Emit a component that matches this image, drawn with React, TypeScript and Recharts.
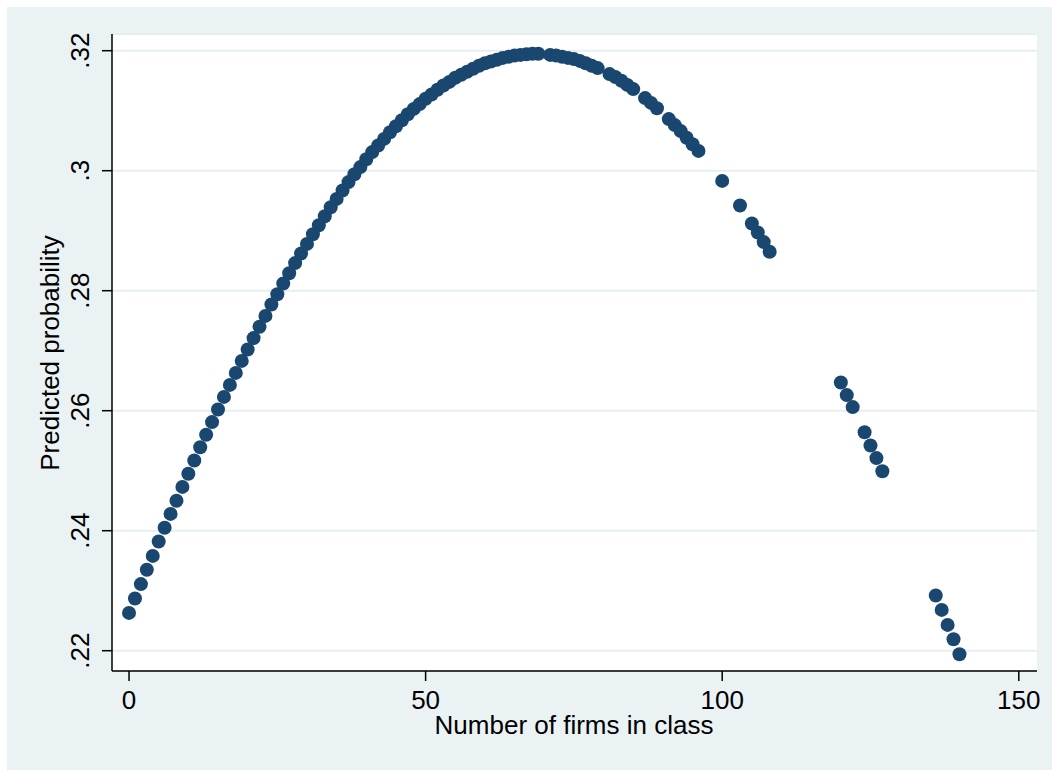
import React from 'react';
import { CartesianGrid, Scatter, ScatterChart, XAxis, YAxis } from 'recharts';

// number of firms in class (x) and predicted probability (y)
const firms = [
  0, 1, 2, 3, 4, 5, 6, 7, 8, 9, 10, 11, 12, 13, 14, 15, 16, 17, 18, 19,
  20, 21, 22, 23, 24, 25, 26, 27, 28, 29, 30, 31, 32, 33, 34, 35, 36, 37, 38, 39,
  40, 41, 42, 43, 44, 45, 46, 47, 48, 49, 50, 51, 52, 53, 54, 55, 56, 57, 58, 59,
  60, 61, 62, 63, 64, 65, 66, 67, 68, 69, 71, 72, 73, 74, 75, 76, 77, 78, 79,
  81, 82, 83, 84, 85, 87, 88, 89, 91, 92, 93, 94, 95, 96,
  100, 103, 105, 106, 107, 108,
  120, 121, 122, 124, 125, 126, 127,
  136, 137, 138, 139, 140,
];

const predicted = [
  0.2263, 0.2287, 0.2311, 0.2335, 0.2358, 0.2382, 0.2405, 0.2428, 0.245, 0.2473,
  0.2495, 0.2517, 0.2539, 0.256, 0.2581, 0.2602, 0.2623, 0.2643, 0.2663, 0.2683,
  0.2702, 0.2721, 0.274, 0.2758, 0.2777, 0.2794, 0.2812, 0.2829, 0.2846, 0.2862,
  0.2878, 0.2894, 0.2909, 0.2924, 0.2939, 0.2953, 0.2967, 0.2981, 0.2994, 0.3006,
  0.3019, 0.3031, 0.3042, 0.3053, 0.3064, 0.3074, 0.3084, 0.3094, 0.3103, 0.3111,
  0.312, 0.3127, 0.3135, 0.3142, 0.3148, 0.3155, 0.316, 0.3165, 0.317, 0.3175,
  0.3179, 0.3182, 0.3185, 0.3188, 0.319, 0.3192, 0.3193, 0.3194, 0.3195, 0.3195,
  0.3193, 0.3192, 0.319, 0.3188, 0.3186, 0.3183, 0.3179, 0.3175, 0.3171,
  0.3161, 0.3156, 0.315, 0.3143, 0.3136, 0.3121, 0.3113, 0.3104,
  0.3086, 0.3076, 0.3066, 0.3055, 0.3044, 0.3033,
  0.2983, 0.2942, 0.2912, 0.2897, 0.2881, 0.2865,
  0.2647, 0.2626, 0.2606, 0.2564, 0.2542, 0.2521, 0.2499,
  0.2292, 0.2268, 0.2243, 0.2219, 0.2194,
];

const xTicks = [0, 50, 100, 150];
const yTicks = [0.22, 0.24, 0.26, 0.28, 0.3, 0.32];

const data = firms.map((x, i) => ({ x, p: predicted[i] }));

const FONT = '"Liberation Sans", Arial, Helvetica, sans-serif';
const NAVY = '#1a476f';
const BG = '#eaf2f3';

const fmtY = (v: number) => v.toFixed(2).replace(/^0/, '').replace(/0$/, '');

function YTick(props: any) {
  const { y, payload } = props;
  const x = 82;
  return (
    <text
      x={x}
      y={y}
      transform={`rotate(-90, ${x}, ${y})`}
      textAnchor="middle"
      fontSize={26}
      fontFamily={FONT}
      fill="#000"
    >
      {fmtY(payload.value)}
    </text>
  );
}

function XTick(props: any) {
  const { x, y, payload } = props;
  return (
    <text x={x} y={y + 26} textAnchor="middle" fontSize={26} fontFamily={FONT} fill="#000">
      {payload.value}
    </text>
  );
}

const Dot = (props: any) => <circle cx={props.cx} cy={props.cy} r={7} fill={NAVY} />;

export default function App() {
  return (
    <div style={{ position: 'absolute', left: 7, top: 7, width: 1045, height: 763, background: BG }}>
      <ScatterChart width={1045} height={763} margin={{ top: 27, right: 15, bottom: 0, left: 0 }}>
        <CartesianGrid vertical={false} stroke="#e6eef0" strokeWidth={2} fill="#ffffff" />
        <XAxis
          dataKey="x"
          type="number"
          domain={[-2.87, 153.07]}
          ticks={xTicks}
          allowDataOverflow
          height={99}
          tickSize={10}
          axisLine={{ stroke: '#000', strokeWidth: 1.5 }}
          tickLine={{ stroke: '#000', strokeWidth: 1.5 }}
          tick={<XTick />}
          label={() => (
            <text x={567} y={727} textAnchor="middle" fontSize={26} fontFamily={FONT} fill="#000">
              Number of firms in class
            </text>
          )}
        />
        <YAxis
          dataKey="p"
          type="number"
          domain={[0.216617, 0.322783]}
          ticks={yTicks}
          allowDataOverflow
          width={105}
          tickSize={10}
          axisLine={{ stroke: '#000', strokeWidth: 1.5 }}
          tickLine={{ stroke: '#000', strokeWidth: 1.5 }}
          tick={<YTick />}
          label={() => (
            <text
              x={52}
              y={346}
              transform="rotate(-90, 52, 346)"
              textAnchor="middle"
              fontSize={26}
              fontFamily={FONT}
              fill="#000"
            >
              Predicted probability
            </text>
          )}
        />
        <Scatter data={data} shape={Dot} isAnimationActive={false} />
      </ScatterChart>
    </div>
  );
}
